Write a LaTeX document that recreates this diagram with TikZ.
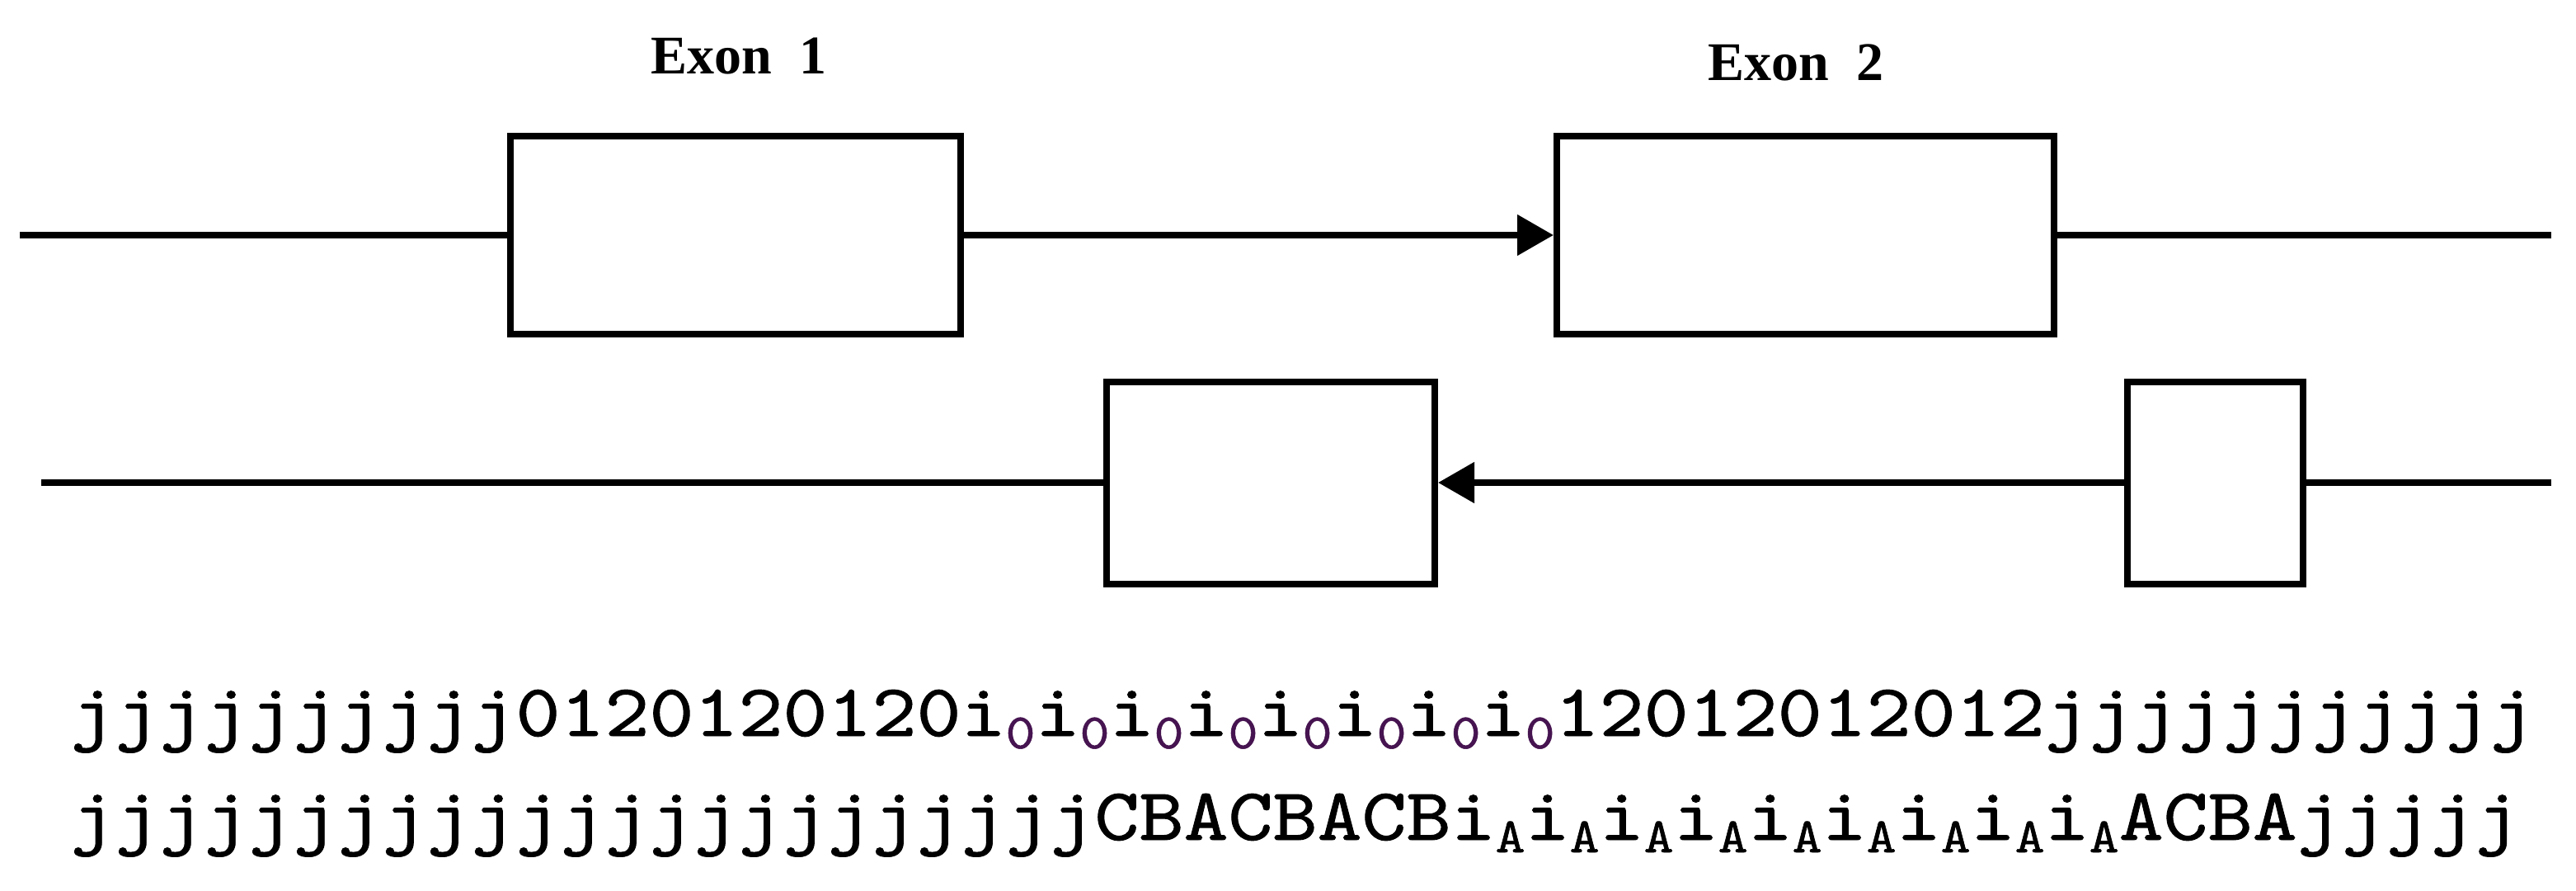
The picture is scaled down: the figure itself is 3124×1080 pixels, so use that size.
\documentclass[tikz,border=0pt]{standalone}
\usepackage{fontspec}
\usetikzlibrary{arrows.meta}
\setmainfont{Liberation Serif}
\newfontfamily\seqfont[FakeStretch=1.143,FakeBold=1]{lmmono10-regular.otf}
\definecolor{subpurple}{RGB}{70,20,80}
\newcommand\izero{i\raisebox{-7.5pt}{\fontsize{30pt}{30pt}\selectfont\textcolor{subpurple}{0}}}
\newcommand\iasub{i\raisebox{-7.5pt}{\fontsize{30pt}{30pt}\selectfont A}}
\begin{document}
\begin{tikzpicture}[x=0.5pt,y=-0.5pt,
  box/.style={draw, line width=4pt, minimum height=120pt, inner sep=0pt, fill=white},
  wire/.style={line width=4pt},
  arr/.style={wire, -{Triangle[length=22pt,width=24pt]}},
  exlabel/.style={font=\bfseries\fontsize{33pt}{36pt}\selectfont, inner sep=0pt, anchor=base},
  seq/.style={font=\seqfont\fontsize{45pt}{50pt}\selectfont, inner sep=0pt, anchor=base west}]
\useasboundingbox (0,0) rectangle (3124,1080);
% top strand
\node[box, minimum width=273pt] (e1) at (892,285) {};
\node[box, minimum width=301.5pt] (e2) at (2189.5,285) {};
\coordinate (tl) at (24,285);
\coordinate (tr) at (3094,285);
\draw[wire] (tl) -- (e1.west);
\draw[arr] (e1.east) -- (e2.west);
\draw[wire] (e2.east) -- (tr);
\node[exlabel] (l1) at (896,90) {Exon\ \ 1};
\node[exlabel] (l2) at (2178,98) {Exon\ \ 2};
% bottom strand
\node[box, minimum width=199pt, minimum height=122.5pt] (b3) at (1541,585) {};
\node[box, minimum width=106.5pt, minimum height=122.5pt] (b4) at (2686.5,585) {};
\coordinate (bl) at (50,585);
\coordinate (br) at (3094,585);
\draw[wire] (bl) -- (b3.west);
\draw[arr] (b4.west) -- (b3.east);
\draw[wire] (b4.east) -- (br);
% sequences
\node[seq] (s1) at (85,892) {jjjjjjjjjj0120120120\izero\izero\izero\izero\izero\izero\izero\izero12012012012jjjjjjjjjjj};
\node[seq] (s2) at (85,1018) {jjjjjjjjjjjjjjjjjjjjjjjCBACBACB\iasub\iasub\iasub\iasub\iasub\iasub\iasub\iasub\iasub ACBAjjjjj};
\end{tikzpicture}
\end{document}
